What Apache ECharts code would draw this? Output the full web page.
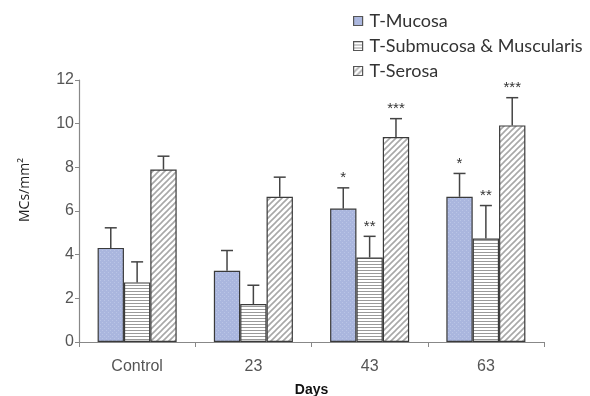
<!DOCTYPE html>
<html><head><meta charset="utf-8">
<script src="https://cdn.jsdelivr.net/npm/echarts@6/dist/echarts.min.js"></script>
<style>html,body{margin:0;padding:0;background:#fff}#c{width:590px;height:396px}</style>
</head><body><div id="c"></div>
<script>
var categories = ['Control', '23', '43', '63'];
var seriesNames = ['T-Mucosa', 'T-Submucosa & Muscularis', 'T-Serosa'];
var mucosa = [4.31, 3.26, 6.11, 6.65];
var submucosa = [2.73, 1.74, 3.87, 4.74];
var serosa = [7.90, 6.65, 9.39, 9.92];
var mucosaErr = [0.92, 0.93, 0.95, 1.07];
var submucosaErr = [0.94, 0.86, 0.97, 1.51];
var serosaErr = [0.61, 0.90, 0.84, 1.27];
var mucosaSig = ['', '', '*', '*'];
var submucosaSig = ['', '', '**', '**'];
var serosaSig = ['', '', '***', '***'];
var yTicks = [0, 2, 4, 6, 8, 10, 12];

function makePattern(kind) {
  var cv = document.createElement('canvas');
  var ctx = cv.getContext('2d');
  if (kind === 'dots') {
    cv.width = 4; cv.height = 4;
    ctx.fillStyle = '#aab6de'; ctx.fillRect(0, 0, 4, 4);
    ctx.fillStyle = '#bac5e6'; ctx.fillRect(0, 0, 1, 1); ctx.fillRect(2, 2, 1, 1);
  } else if (kind === 'hlines') {
    cv.width = 4; cv.height = 3;
    ctx.fillStyle = '#ffffff'; ctx.fillRect(0, 0, 4, 3);
    ctx.fillStyle = '#9a9a9a'; ctx.fillRect(0, 0, 4, 1);
  } else {
    var s = 6;
    cv.width = s; cv.height = s;
    ctx.fillStyle = '#ffffff'; ctx.fillRect(0, 0, s, s);
    ctx.strokeStyle = '#a8a8a8'; ctx.lineWidth = 1.6;
    ctx.beginPath();
    ctx.moveTo(-1, s + 1); ctx.lineTo(s + 1, -1);
    ctx.moveTo(-1, 1); ctx.lineTo(1, -1);
    ctx.moveTo(s - 1, s + 1); ctx.lineTo(s + 1, s - 1);
    ctx.stroke();
  }
  return { image: cv, repeat: 'repeat' };
}
var patterns = [makePattern('dots'), makePattern('hlines'), makePattern('diag')];
var values = [mucosa, submucosa, serosa];
var errs = [mucosaErr, submucosaErr, serosaErr];
var sigs = [mucosaSig, submucosaSig, serosaSig];
var catGap = 0.32;

var series = [];
seriesNames.forEach(function (name, si) {
  series.push({
    name: name, type: 'bar', data: values[si],
    barGap: '0%', barCategoryGap: (catGap * 100) + '%',
    itemStyle: { color: patterns[si], borderColor: '#3a3a3a', borderWidth: 1.2 },
    emphasis: { disabled: true }, z: 2
  });
});
seriesNames.forEach(function (name, si) {
  var data = values[si].map(function (v, i) { return [i, v, v + errs[si][i], sigs[si][i]]; });
  series.push({
    type: 'custom', z: 3, silent: true,
    data: data,
    renderItem: function (params, api) {
      var ci = api.value(0);
      var base = api.coord([ci, api.value(1)]);
      var top = api.coord([ci, api.value(2)]);
      var band = api.size([1, 0])[0];
      var bw = band * (1 - catGap) / 3;
      var x = base[0] + (si - 1) * bw;
      var cap = 6;
      var children = [
        { type: 'line', shape: { x1: x, y1: base[1], x2: x, y2: top[1] }, style: { stroke: '#444', lineWidth: 1.5 } },
        { type: 'line', shape: { x1: x - cap, y1: top[1], x2: x + cap, y2: top[1] }, style: { stroke: '#444', lineWidth: 1.5 } }
      ];
      var sig = data[params.dataIndex][3];
      if (sig) {
        children.push({ type: 'text', style: { text: sig, x: x, y: top[1] - 2, align: 'center', verticalAlign: 'bottom', fontSize: 15, fontFamily: 'Liberation Sans', fill: '#333' } });
      }
      return { type: 'group', children: children };
    }
  });
});

var chart = echarts.init(document.getElementById('c'), null, { renderer: 'canvas' });
chart.setOption({
  animation: false,
  backgroundColor: '#ffffff',
  grid: { left: 79, right: 46, top: 80, bottom: 54, containLabel: false, outerBoundsMode: 'none' },
  legend: {
    data: seriesNames.map(function (n, i) { return { name: n, itemStyle: { color: patterns[i], borderColor: '#555', borderWidth: 1.2 } }; }),
    orient: 'vertical', left: 348, top: 7, itemGap: 7, itemWidth: 9, itemHeight: 9,
    icon: 'rect', selectedMode: false,
    textStyle: { fontFamily: 'Lato', fontSize: 18, color: '#333', padding: [0, 0, 0, 2] }
  },
  xAxis: {
    type: 'category', data: categories,
    name: 'Days', nameLocation: 'middle', nameGap: 41,
    nameTextStyle: { fontFamily: 'Liberation Sans', fontWeight: 'bold', fontSize: 14, color: '#111' },
    axisLine: { lineStyle: { color: '#888', width: 1.2 } },
    axisTick: { show: true, length: 5, alignWithLabel: false, lineStyle: { color: '#888' } },
    axisLabel: { margin: 17, fontFamily: 'Liberation Sans', fontSize: 16, color: '#555' }
  },
  yAxis: {
    type: 'value', min: yTicks[0], max: yTicks[yTicks.length - 1], interval: 2,
    splitLine: { show: false },
    axisLine: { show: true, lineStyle: { color: '#888', width: 1.2 } },
    axisTick: { show: true, length: 4, lineStyle: { color: '#888' } },
    axisLabel: { margin: 5, fontFamily: 'Liberation Sans', fontSize: 16, color: '#555' }
  },
  graphic: [{
    type: 'text', x: 18, y: 222, rotation: Math.PI / 2,
    style: { text: 'MCs/mm²', fontFamily: 'Open Sans', fontSize: 14, fill: '#222' }
  }],
  series: series
});
</script></body></html>
